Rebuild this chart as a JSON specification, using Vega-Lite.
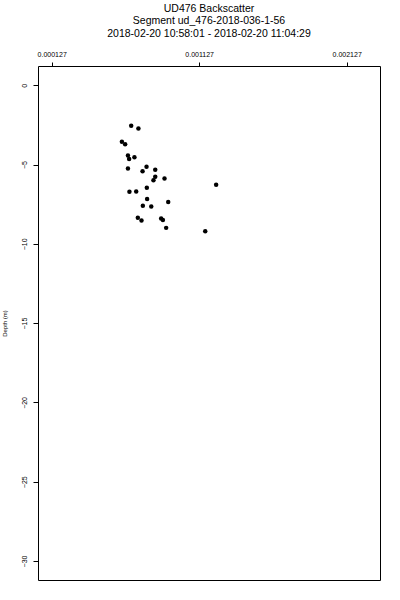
{
  "$schema": "https://vega.github.io/schema/vega-lite/v6.json",
  "autosize": "none",
  "width": 342,
  "height": 514,
  "padding": {"left": 38, "top": 66, "right": 20, "bottom": 20},
  "background": "white",
  "title": {
    "text": ["UD476 Backscatter", "Segment ud_476-2018-036-1-56", "2018-02-20 10:58:01 - 2018-02-20 11:04:29"],
    "anchor": "middle",
    "frame": "group",
    "font": "Liberation Sans",
    "fontSize": 10.5,
    "fontWeight": "normal",
    "lineHeight": 12.5,
    "color": "black",
    "offset": 11
  },
  "config": {
    "view": {"stroke": "black", "strokeWidth": 1},
    "axis": {
      "labelFont": "Liberation Sans",
      "titleFont": "Liberation Sans",
      "labelColor": "black",
      "titleColor": "black",
      "tickColor": "black",
      "grid": false,
      "domain": false
    }
  },
  "data": {
    "values": [
      {"backscatter": 0.000666, "depth": -2.55},
      {"backscatter": 0.000715, "depth": -2.72},
      {"backscatter": 0.000603, "depth": -3.56},
      {"backscatter": 0.000625, "depth": -3.72},
      {"backscatter": 0.000644, "depth": -4.43},
      {"backscatter": 0.000652, "depth": -4.64},
      {"backscatter": 0.000688, "depth": -4.54},
      {"backscatter": 0.000644, "depth": -5.25},
      {"backscatter": 0.000770, "depth": -5.13},
      {"backscatter": 0.000743, "depth": -5.42},
      {"backscatter": 0.000829, "depth": -5.32},
      {"backscatter": 0.000829, "depth": -5.76},
      {"backscatter": 0.000817, "depth": -5.99},
      {"backscatter": 0.000892, "depth": -5.87},
      {"backscatter": 0.001242, "depth": -6.27},
      {"backscatter": 0.000654, "depth": -6.71},
      {"backscatter": 0.000700, "depth": -6.69},
      {"backscatter": 0.000772, "depth": -6.46},
      {"backscatter": 0.000774, "depth": -7.17},
      {"backscatter": 0.000917, "depth": -7.36},
      {"backscatter": 0.000745, "depth": -7.59},
      {"backscatter": 0.000802, "depth": -7.64},
      {"backscatter": 0.000711, "depth": -8.35},
      {"backscatter": 0.000736, "depth": -8.53},
      {"backscatter": 0.000869, "depth": -8.40},
      {"backscatter": 0.000881, "depth": -8.50},
      {"backscatter": 0.000903, "depth": -8.99},
      {"backscatter": 0.001168, "depth": -9.20}
    ]
  },
  "mark": {"type": "point", "filled": true, "shape": "circle", "color": "black", "opacity": 1, "size": 20},
  "encoding": {
    "x": {
      "field": "backscatter",
      "type": "quantitative",
      "scale": {"domain": [0.0000341, 0.002353], "nice": false, "zero": false},
      "axis": {
        "orient": "top",
        "title": null,
        "values": [0.000127, 0.001127, 0.002127],
        "format": ".6f",
        "labelFontSize": 7,
        "tickSize": 4,
        "labelPadding": 5
      }
    },
    "y": {
      "field": "depth",
      "type": "quantitative",
      "scale": {"domain": [-31.2, 1.22], "nice": false, "zero": false},
      "axis": {
        "orient": "left",
        "title": "Depth (m)",
        "values": [-30, -25, -20, -15, -10, -5, 0],
        "format": "d",
        "labelAngle": -90,
        "labelAlign": "center",
        "labelBaseline": "bottom",
        "labelFontSize": 7,
        "tickSize": 5,
        "labelPadding": 6,
        "titleFontSize": 6,
        "titleFontWeight": "normal",
        "titlePadding": 13
      }
    }
  }
}
